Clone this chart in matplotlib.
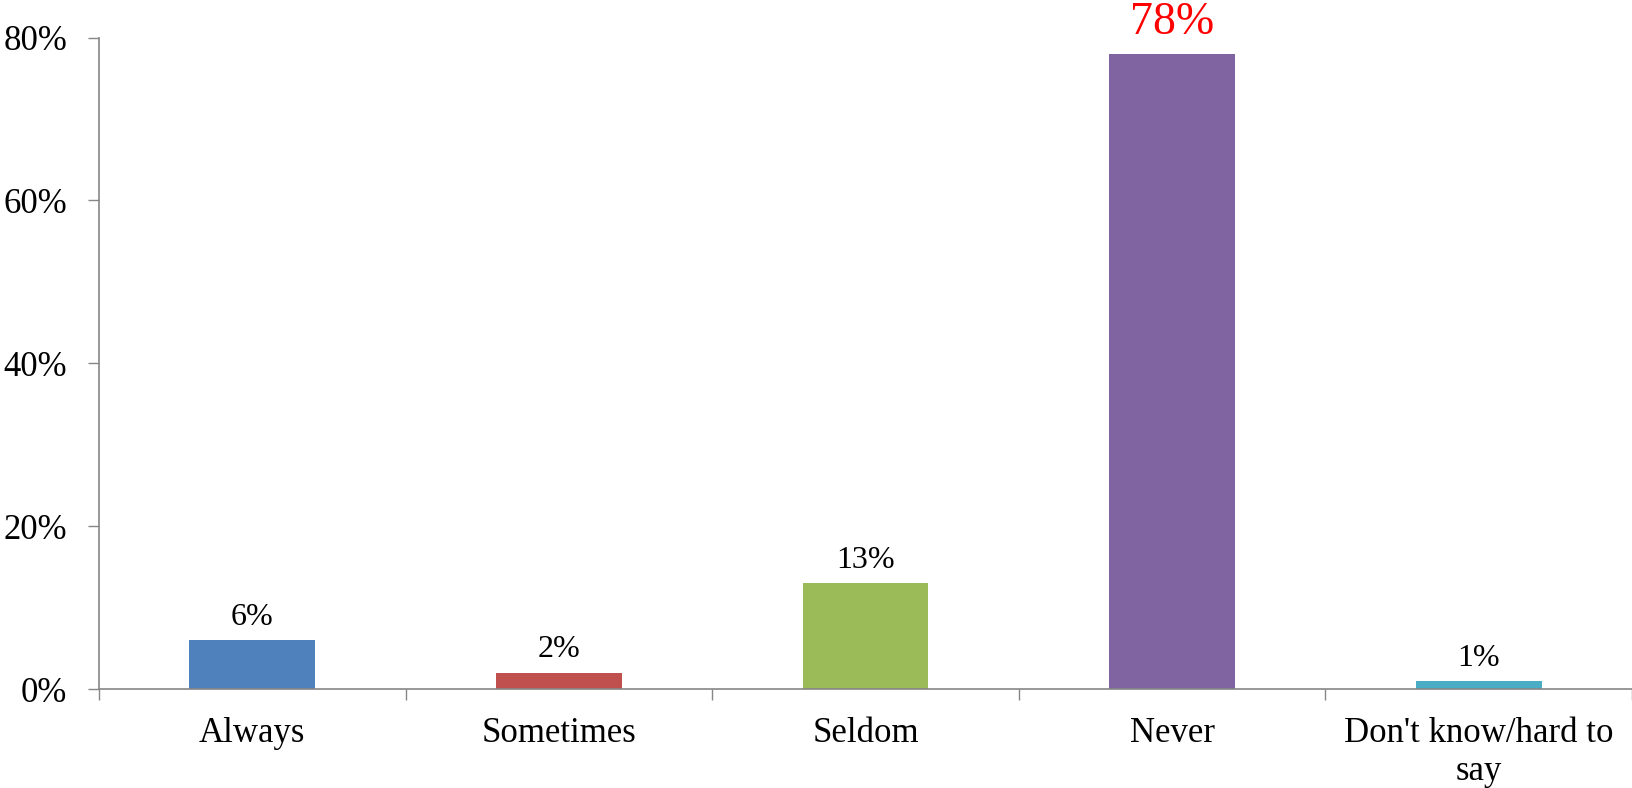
import matplotlib.pyplot as plt
import numpy as np

categories = ["Always", "Sometimes", "Seldom", "Never", "Don't know/hard to\nsay"]
values = [6, 2, 13, 78, 1]
colors = ["#4F81BD", "#C0504D", "#9BBB59", "#8064A2", "#4BACC6"]
yticks = [0, 20, 40, 60, 80]

plt.rcParams['font.family'] = ['Liberation Serif', 'DejaVu Serif']

fig = plt.figure(figsize=(16.33, 7.88), dpi=100)
ax = fig.add_axes([0.0606, 0.1256, 0.9388, 0.8268])

x = np.arange(len(categories))
bars = ax.bar(x, values, width=0.41, color=colors, zorder=2)

ax.set_xlim(-0.5, len(categories) - 0.5)
ax.set_ylim(0, 80)

# value labels, the big one in red
for i, (b, v) in enumerate(zip(bars, values)):
    big = v == max(values)
    ax.annotate(f"{v}%", (b.get_x() + b.get_width() / 2, v),
                xytext=(0, 7 if big else 6), textcoords="offset points",
                ha="center", va="bottom",
                fontsize=33 if big else 23,
                color="red" if big else "black")

# y axis
ax.set_yticks(yticks)
ax.set_yticklabels([f"{t}%" for t in yticks], fontsize=25)

# x axis: ticks at category boundaries, labels in the middle
ax.set_xticks(np.arange(-0.5, len(categories), 1.0))
ax.set_xticklabels([])
ax.set_xticks(x, minor=True)
ax.set_xticklabels(categories, minor=True, fontsize=25, linespacing=1.2)

ax.tick_params(axis="y", direction="out", length=8, width=1, color="#868686", pad=15)
ax.tick_params(axis="x", which="major", direction="out", length=8, width=1, color="#868686")
ax.tick_params(axis="x", which="minor", length=0, pad=20)

for s in ["top", "right"]:
    ax.spines[s].set_visible(False)
for s in ["left", "bottom"]:
    ax.spines[s].set_color("#868686")
    ax.spines[s].set_linewidth(1.2)

fig.savefig("out.png", dpi=100)
